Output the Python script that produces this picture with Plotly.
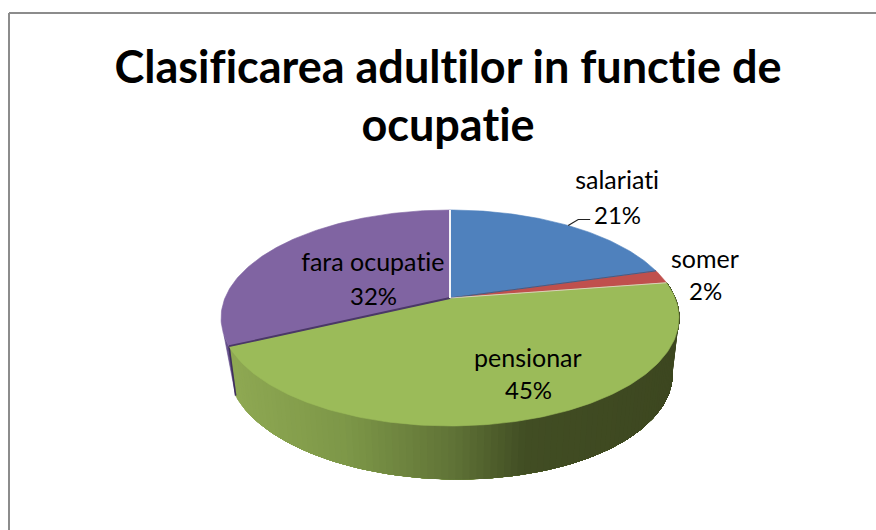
import numpy as np
import plotly.graph_objects as go

categories = ["salariati", "somer", "pensionar", "fara ocupatie"]
values = [20.6, 2.0, 45.4, 32.0]
top_colors = ["#4f81bd", "#c0504d", "#9bbb59", "#8064a2"]
title_text = "Clasificarea adultilor in functie de<br>ocupatie"
FONT = "Lato"

# projection of the tilted pie on to the page (page pixels)
CX, CY = 450.0, 298.0
RX, RY, PERSP = 225.0, 104.3, 0.185
DEPTH, SHRINK = 54.0, 0.97


def top_rim(theta_deg):
    t = np.radians(theta_deg)
    u, v = np.sin(t), np.cos(t)
    w = 1 + PERSP * v
    return CX + RX * u / w, CY - RY * v / w


def bottom_rim(theta_deg):
    x, y = top_rim(theta_deg)
    d = DEPTH - 1.0 + 3.5 * (x - CX) / 222
    return CX + SHRINK * (x - CX), y + d


def mix(c1, c2, f):
    a = [int(c1[i:i + 2], 16) for i in (1, 3, 5)]
    b = [int(c2[i:i + 2], 16) for i in (1, 3, 5)]
    return "rgb(%d,%d,%d)" % tuple(round(p + (q - p) * f) for p, q in zip(a, b))


def poly(x, y, color):
    return go.Scatter(
        x=list(x), y=list(y), mode="lines", fill="toself", fillcolor=color,
        line=dict(color=color, width=0.6),
        hoverinfo="skip", showlegend=False,
    )


cum = np.cumsum([0] + values) * 3.6
starts, ends = cum[:-1], cum[1:]
fig = go.Figure()

# sliver of the last slice's wall, seen left of the large slice
a = np.linspace(ends[2], ends[2] + 5.5, 6)
tx, ty = top_rim(a)
bx, by = bottom_rim(ends[2])
fig.add_trace(poly(np.r_[tx, bx], np.r_[ty, by], "#66508c"))

# side wall of the large slice, shaded left to right; every strip reaches to the
# far end and is overpainted by the next, so no seams show
edges = np.linspace(ends[2], starts[2], 110)
stops = [(0.0, "#8ea852"), (0.25, "#7d9748"), (0.5, "#5f7236"), (0.66, "#414d23"), (1.0, "#3d4720")]
for a0 in edges[:-1]:
    ang = np.linspace(a0, starts[2], max(int(a0 - starts[2]), 2) + 1)
    tx, ty = top_rim(ang)
    bx, by = bottom_rim(ang)
    f = float(np.clip((tx[0] - 232) / (672 - 232), 0, 1))
    for (p0, c0), (p1, c1) in zip(stops[:-1], stops[1:]):
        if p0 <= f <= p1:
            color = mix(c0, c1, (f - p0) / (p1 - p0))
            break
    fig.add_trace(poly(np.r_[tx, bx[::-1]], np.r_[ty, by[::-1]], color))

# dark cut edge at the large slice's start on the wall
ex0, ey0 = top_rim(ends[2])
ex1, ey1 = bottom_rim(ends[2])
fig.add_trace(go.Scatter(x=[ex0, ex1], y=[ey0, ey1], mode="lines",
                         line=dict(color="#3f2f5c", width=1.6),
                         hoverinfo="skip", showlegend=False))

# top faces
for s, e, c in zip(starts, ends, top_colors):
    a = np.linspace(s, e, max(int(e - s), 2) + 1)
    x, y = top_rim(a)
    fig.add_trace(poly(np.r_[CX, x, CX], np.r_[CY, y, CY], c))

# slice boundaries
boundary_colors = ["#3c5f8c", "#e8d8d0", "#4a3866", "#f4f4f8"]
for ang, c, w in zip(ends, boundary_colors, [1.0, 0.8, 1.8, 2.0]):
    x, y = top_rim(ang)
    fig.add_trace(go.Scatter(x=[CX, x], y=[CY, y], mode="lines", line=dict(color=c, width=w),
                             hoverinfo="skip", showlegend=False))

# leader line of the first label
lx, ly = top_rim((starts[0] + ends[0]) / 2)
fig.add_trace(go.Scatter(x=[lx, lx + 10, lx + 22], y=[ly, ly - 6, ly - 6], mode="lines",
                         line=dict(color="#222222", width=1.2),
                         hoverinfo="skip", showlegend=False))

label_pos = [(617, 179, 214), (705, 258, 290), (528, 357, 389), (373, 261, 295)]
anns = []
for cat, val, (x, y1, y2) in zip(categories, values, label_pos):
    anns.append(dict(x=x, y=y1, text=cat, showarrow=False, xref="x", yref="y",
                     font=dict(family=FONT, size=25, color="#000000")))
    anns.append(dict(x=x, y=y2, text=f"{round(val)}%", showarrow=False, xref="x", yref="y",
                     font=dict(family=FONT, size=24, color="#000000")))
for txt, y in zip(title_text.split("<br>"), (66, 124)):
    anns.append(dict(x=448, y=y, text=txt, showarrow=False, xref="x", yref="y",
                     font=dict(family=FONT, size=45, color="#000000", weight="bold")))

frame = dict(type="line", xref="x", yref="y", line=dict(color="#8c8c8c", width=2))
shapes = [dict(frame, x0=9, y0=13, x1=876, y1=13), dict(frame, x0=9, y0=13, x1=9, y1=530)]

fig.update_layout(
    width=876, height=530, margin=dict(l=0, r=0, t=0, b=0),
    paper_bgcolor="white", plot_bgcolor="white", showlegend=False,
    xaxis=dict(range=[0, 876], visible=False, fixedrange=True),
    yaxis=dict(range=[530, 0], visible=False, fixedrange=True),
    annotations=anns, shapes=shapes,
)
page_fix = (
    "document.body.style.margin='0';document.documentElement.style.overflow='hidden';"
    "var s=document.createElement('style');"
    "s.textContent='text{font-variant-ligatures:none !important;font-feature-settings:\"liga\" 0,\"clig\" 0 !important}';"
    "document.head.appendChild(s);"
)
fig.write_html("out.html", config={"displayModeBar": False}, post_script=page_fix)
